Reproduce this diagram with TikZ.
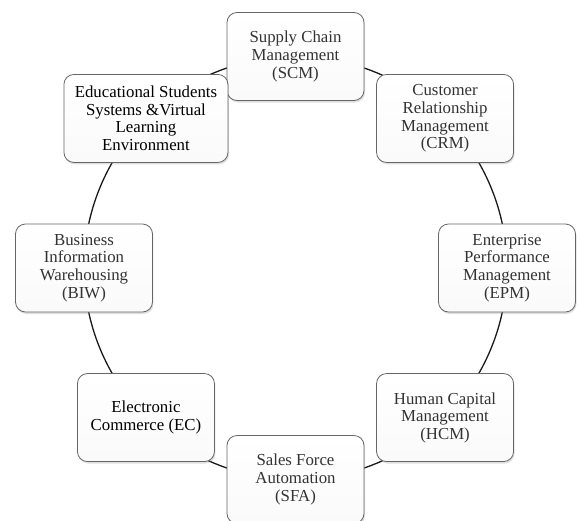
\documentclass[tikz,border=0pt]{standalone}
\usepackage{fontspec}
\setmainfont{Liberation Serif}
\usetikzlibrary{shadows,backgrounds}
\begin{document}
\begin{tikzpicture}[
        module/.style={draw=black!60, line width=0.8pt, rounded corners=10pt,
                top color=white, bottom color=black!2,
                drop shadow={shadow xshift=1pt, shadow yshift=-2pt, opacity=0.25},
                minimum width=137pt, minimum height=88pt, align=center,
                text=black!80, font=\fontsize{16.8}{17.6}\selectfont},
        ring/.style={draw=black!90, line width=1.3pt}
    ]
    \useasboundingbox (-295.5pt,-252pt) rectangle (284.5pt,268pt);
    \node[module] (scm) at (90:211.5pt) {Supply Chain\\Management\\(SCM)};
    \node[module] (crm) at (45:211.5pt) {Customer\\Relationship\\Management\\(CRM)};
    \node[module] (epm) at (0:211.5pt) {Enterprise\\Performance\\Management\\(EPM)};
    \node[module] (hcm) at (-45:211.5pt) {Human Capital\\Management\\(HCM)};
    \node[module] (sfa) at (-90:211.5pt) {Sales Force\\Automation\\(SFA)};
    \node[module, text=black] (ec) at (-135:211.5pt) {Electronic\\Commerce (EC)};
    \node[module] (biw) at (180:211.5pt) {Business\\Information\\Warehousing\\(BIW)};
    \node[module, text=black, minimum width=164pt] (ess) at (135:211.5pt) {Educational Students\\Systems \&Virtual\\Learning\\Environment};
    \begin{scope}[on background layer]
        \foreach \a/\b in {scm/crm,crm/epm,epm/hcm,hcm/sfa,sfa/ec,ec/biw,biw/ess,ess/scm} {
                \draw[ring] (\a.center) to[bend left=22.5, looseness=0.885] (\b.center);
            }
    \end{scope}
\end{tikzpicture}
\end{document}
